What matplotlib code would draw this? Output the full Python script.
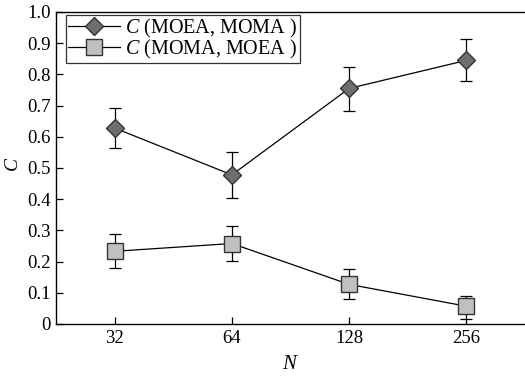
import matplotlib
matplotlib.use("Agg")
import matplotlib.pyplot as plt

plt.rcParams['font.family'] = ['Liberation Serif']
plt.rcParams['mathtext.fontset'] = 'custom'
plt.rcParams['mathtext.it'] = 'Liberation Serif:italic'
plt.rcParams['mathtext.rm'] = 'Liberation Serif'

n_labels = ['32', '64', '128', '256']
c_moea_moma = [0.628, 0.478, 0.755, 0.845]
c_moea_moma_hi = [0.692, 0.550, 0.825, 0.912]
c_moea_moma_lo = [0.565, 0.405, 0.683, 0.780]
c_moma_moea = [0.233, 0.258, 0.127, 0.057]
c_moma_moea_hi = [0.287, 0.314, 0.176, 0.091]
c_moma_moea_lo = [0.179, 0.201, 0.079, 0.015]

x = list(range(len(n_labels)))

fig = plt.figure(figsize=(5.25, 3.77), dpi=100)
ax = fig.add_axes([56/525, 1-324/377, 1-56/525, (324-12)/377])

err1 = [[m - l for m, l in zip(c_moea_moma, c_moea_moma_lo)],
        [h - m for m, h in zip(c_moea_moma, c_moea_moma_hi)]]
err2 = [[m - l for m, l in zip(c_moma_moea, c_moma_moea_lo)],
        [h - m for m, h in zip(c_moma_moea, c_moma_moea_hi)]]

# error bars first, lines + markers on top
ax.errorbar(x, c_moea_moma, yerr=err1, fmt='none', ecolor='black', elinewidth=0.9,
            capsize=4, capthick=0.9)
ax.errorbar(x, c_moma_moea, yerr=err2, fmt='none', ecolor='black', elinewidth=0.9,
            capsize=4, capthick=0.9)
ax.plot(x, c_moea_moma, color='black', lw=0.9, marker='D', ms=9, mfc='#6e6e6e',
        mec='#333333', mew=1.0, label='$C$ (MOEA, MOMA )')
ax.plot(x, c_moma_moea, color='black', lw=0.9, marker='s', ms=11, mfc='#c0c0c0',
        mec='#333333', mew=1.0, label='$C$ (MOMA, MOEA )')

ax.set_xlim(-0.5, 3.5)
ax.set_ylim(0, 1.0)
ax.set_xticks(x)
ax.set_xticklabels(n_labels)
ax.set_yticks([i / 10 for i in range(11)])
ax.set_yticklabels(['0'] + ['%.1f' % (i / 10) for i in range(1, 11)])
ax.tick_params(direction='in', labelsize=13.5, length=5, width=0.9, pad=4)
ax.spines['right'].set_visible(False)
for s in ['left', 'bottom', 'top']:
    ax.spines[s].set_linewidth(1.0)

ax.set_xlabel('$N$', fontsize=15, labelpad=6)
ax.set_ylabel('$C$', fontsize=14)
ax.yaxis.set_label_coords(-0.072, 0.51)

leg = ax.legend(loc='upper left', bbox_to_anchor=(10/469, 1-3/312), borderaxespad=0,
                fontsize=14.5, frameon=True, fancybox=False, edgecolor='black',
                handlelength=2.6, handletextpad=0.25, borderpad=0.1, labelspacing=-0.1)
leg.get_frame().set_linewidth(0.9)

fig.savefig('out.png', dpi=100)
